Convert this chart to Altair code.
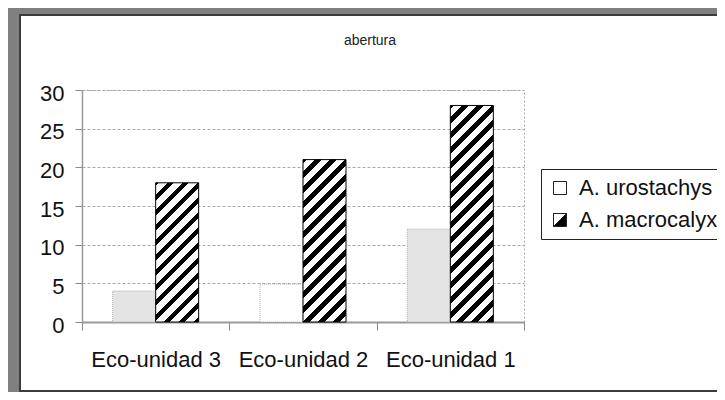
import altair as alt
import pandas as pd

categories = ["Eco-unidad 3", "Eco-unidad 2", "Eco-unidad 1"]
series = ["A. urostachys", "A. macrocalyx"]
urostachys = [4.0, 4.9, 12.0]
macrocalyx = [18.0, 21.0, 28.0]
y_ticks = [0, 5, 10, 15, 20, 25, 30]
title_text = "abertura"

rows = []
for c, u, m in zip(categories, urostachys, macrocalyx):
    rows.append({"cat": c, "series": series[0], "value": u})
    rows.append({"cat": c, "series": series[1], "value": m})
df = pd.DataFrame(rows)

W, H = 442, 232
YMAX = 30
PAD_OUTER = 0.713
FONT = "Liberation Sans"

band = W / len(categories)
bar_w = band / (2 + 2 * PAD_OUTER)


def hatch(value, period=15.0, black=6.5, phase=-3.0):
    w = bar_w
    h = value * H / YMAX
    L = w + h
    k = L / (w * w + h * h)
    stops = [alt.GradientStop(offset=0, color="white")]
    s = phase
    while s < L:
        a = max(s, 0.0)
        b = min(s + black, L)
        if b > 0:
            stops += [
                alt.GradientStop(offset=a / L, color="white"),
                alt.GradientStop(offset=a / L, color="black"),
                alt.GradientStop(offset=b / L, color="black"),
                alt.GradientStop(offset=b / L, color="white"),
            ]
        s += period
    stops.append(alt.GradientStop(offset=1, color="white"))
    return alt.LinearGradient(gradient="linear", stops=stops,
                              x1=0, y1=0, x2=k * w, y2=k * h)


x_enc = alt.X("cat:N", sort=categories,
              scale=alt.Scale(domain=categories, paddingInner=0, paddingOuter=0),
              axis=alt.Axis(title=None, labelAngle=0, labelFontSize=22, labelFont=FONT,
                            labelColor="#111", labelPadding=19, tickSize=8,
                            tickColor="#888", domainColor="#999", domainWidth=2,
                            tickBand="extent", grid=False))
xoff_enc = alt.XOffset("series:N", sort=series,
                       scale=alt.Scale(domain=series, paddingOuter=PAD_OUTER, paddingInner=0))
y_enc = alt.Y("value:Q",
              scale=alt.Scale(domain=[0, YMAX], nice=False),
              axis=alt.Axis(title=None, values=y_ticks, labelFontSize=22, labelFont=FONT,
                            labelColor="#111", labelPadding=11, tickSize=7,
                            tickColor="#888", domainColor="#999", domainWidth=1.5,
                            gridColor="#a8a8a8", gridDash=[3, 2], labelOffset=3))

base = alt.Chart(df)

uro = base.transform_filter(alt.datum.series == series[0]).mark_bar(
    stroke="#aaaaaa", strokeDash=[1, 1], strokeWidth=1
).encode(
    x=x_enc, xOffset=xoff_enc, y=y_enc,
    fill=alt.condition(alt.datum.cat == categories[1], alt.value("white"), alt.value("#e4e4e4")),
)

macro_layers = []
for c, m in zip(categories, macrocalyx):
    macro_layers.append(
        base.transform_filter((alt.datum.series == series[1]) & (alt.datum.cat == c))
        .mark_bar(fill=hatch(m), stroke="black", strokeWidth=1)
        .encode(x=x_enc, xOffset=xoff_enc, y=y_enc)
    )

square = "M-1,-1H1V1H-1Z"
half = "M-1,-1H1V1H-1Z M-1,-1L-1,1L1,-1Z"
leg = alt.Legend(title=None, orient="none", legendX=459, legendY=79,
                 symbolSize=169, symbolStrokeColor="black",
                 symbolStrokeWidth=1, labelFontSize=22, labelFont=FONT,
                 labelColor="#111", labelOffset=8, rowPadding=10,
                 padding=8, strokeColor="#222", fillColor="white",
                 cornerRadius=0, labelLimit=300)
legend_layer = base.transform_filter("false").mark_point(
    filled=True, strokeWidth=1, opacity=1
).encode(
    fill=alt.Fill("series:N", scale=alt.Scale(domain=series, range=["white", "black"]), legend=leg),
    shape=alt.Shape("series:N", scale=alt.Scale(domain=series, range=[square, half]), legend=leg),
    stroke=alt.Stroke("series:N", scale=alt.Scale(domain=series, range=["#222", "#222"]), legend=leg),
)

one = alt.Data(values=[{"k": 1}])
frame = [
    alt.Chart(one).mark_rule(color="#808080", strokeWidth=6).encode(
        x=alt.value(-82), x2=alt.value(640), y=alt.value(-79)),
    alt.Chart(one).mark_rule(color="#808080", strokeWidth=11).encode(
        x=alt.value(-68.5), y=alt.value(-82), y2=alt.value(302)),
    alt.Chart(one).mark_rule(color="#3c3c3c", strokeWidth=2).encode(
        x=alt.value(-63), x2=alt.value(640), y=alt.value(-75)),
    alt.Chart(one).mark_rule(color="#3c3c3c", strokeWidth=2).encode(
        x=alt.value(-62), y=alt.value(-76), y2=alt.value(302)),
    alt.Chart(one).mark_rule(color="#3c3c3c", strokeWidth=2).encode(
        x=alt.value(-63), x2=alt.value(640), y=alt.value(301)),
]

chart = alt.layer(legend_layer, uro, *macro_layers, *frame).properties(
    width=W, height=H,
    title=alt.TitleParams(title_text, fontSize=14, font=FONT, fontWeight="normal",
                          color="#222", anchor="middle", frame="group", dx=67, offset=-45),
    autosize=alt.AutoSizeParams(type="none"),
    padding={"left": 74, "top": 82, "right": 193, "bottom": 70},
    background="white",
).configure_view(
    stroke="#aaaaaa", strokeDash=[2, 2], strokeWidth=1
)

chart.save("out.html", embed_options={"renderer": "svg", "actions": False})
